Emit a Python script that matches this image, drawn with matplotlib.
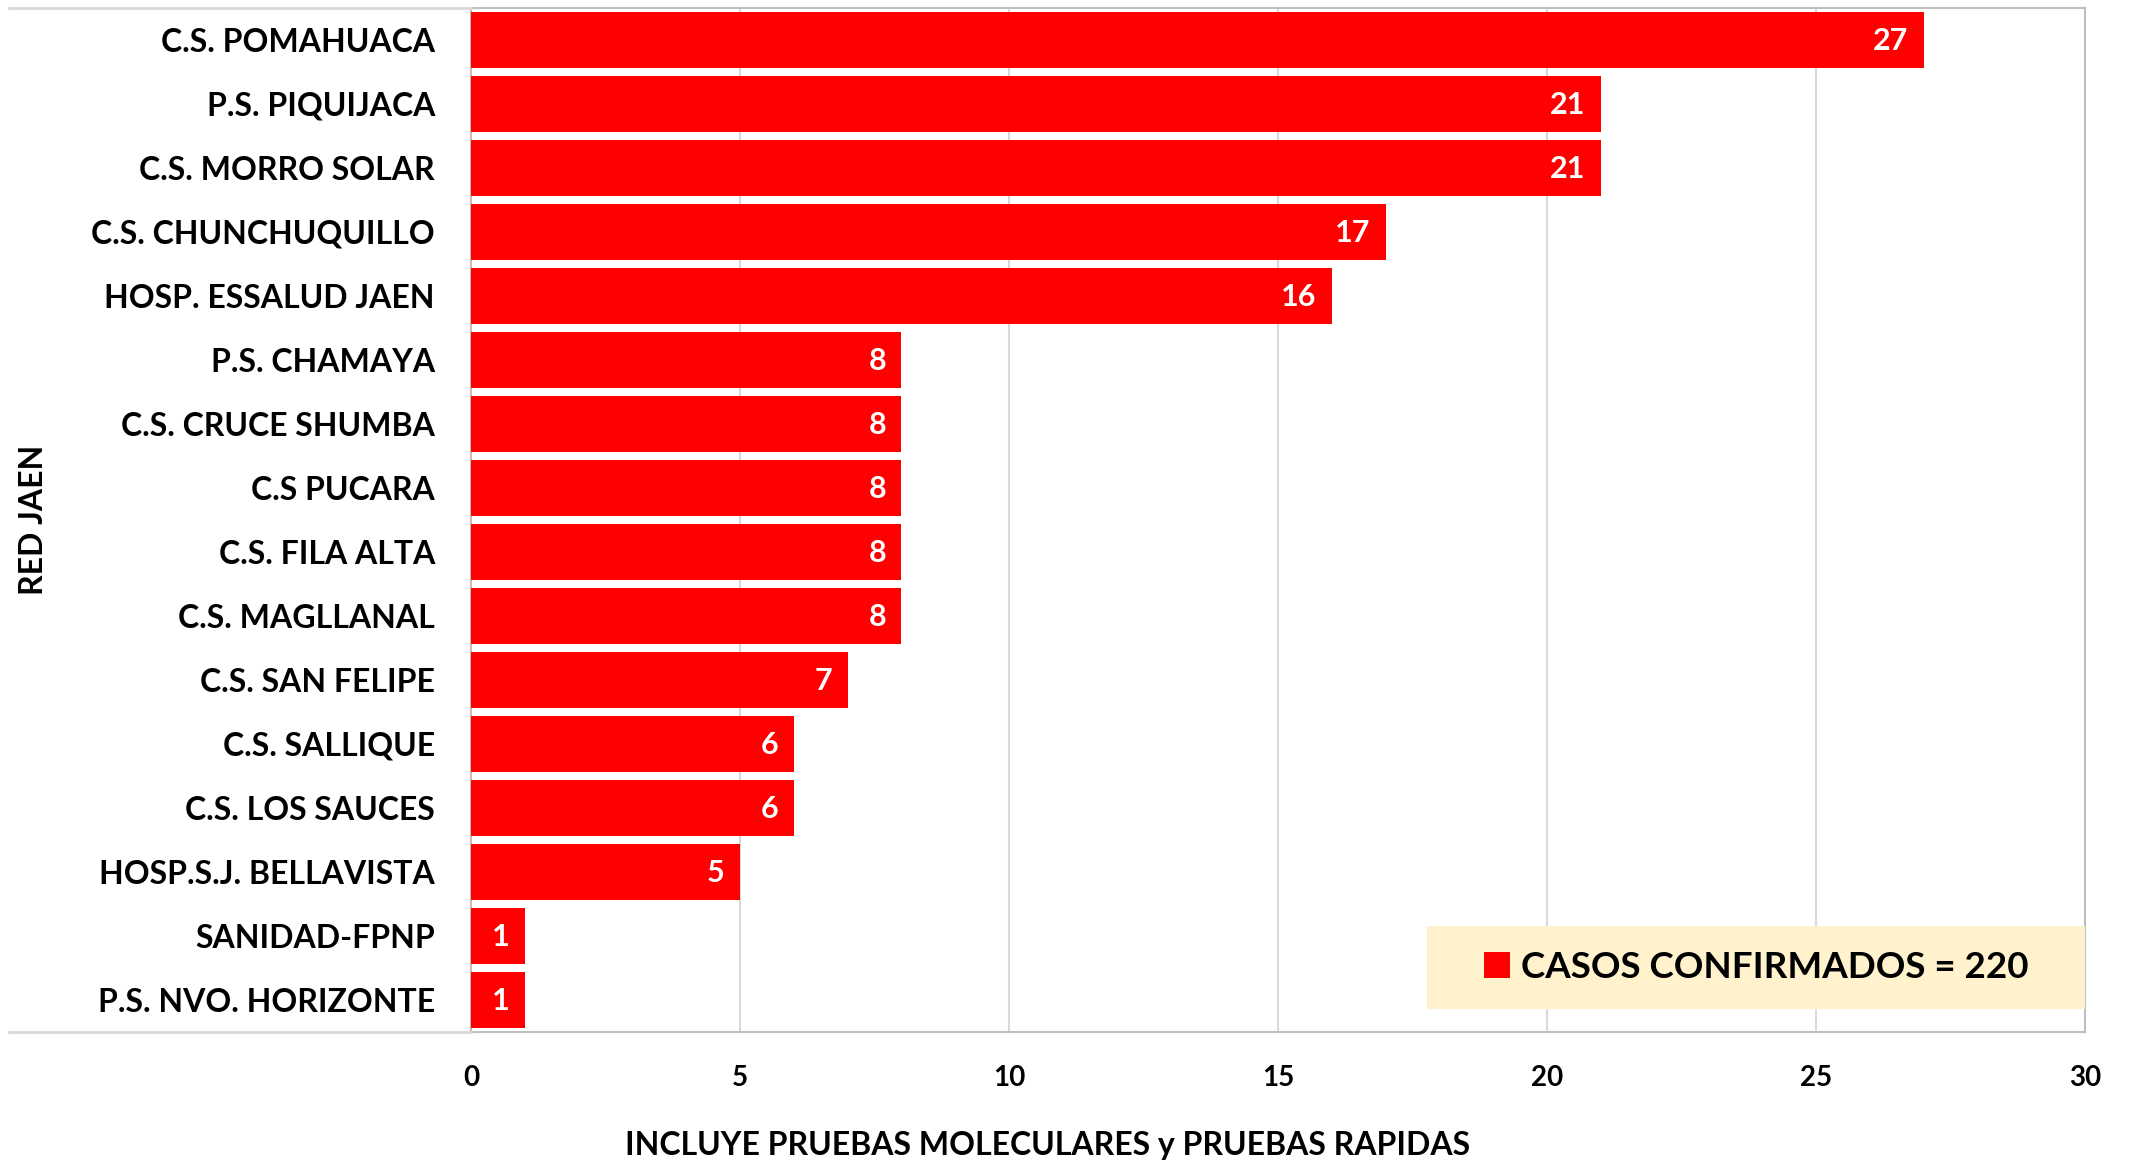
import matplotlib
matplotlib.use("Agg")
import matplotlib.pyplot as plt
from matplotlib.lines import Line2D
from matplotlib.patches import Patch, Rectangle

# establishments, listed top to bottom as in the chart
establecimientos = [
    "C.S. POMAHUACA", "P.S. PIQUIJACA", "C.S. MORRO SOLAR", "C.S. CHUNCHUQUILLO",
    "HOSP. ESSALUD JAEN", "P.S. CHAMAYA", "C.S. CRUCE SHUMBA", "C.S PUCARA",
    "C.S. FILA ALTA", "C.S. MAGLLANAL", "C.S. SAN FELIPE", "C.S. SALLIQUE",
    "C.S. LOS SAUCES", "HOSP.S.J. BELLAVISTA", "SANIDAD-FPNP", "P.S. NVO. HORIZONTE",
]
casos = [27, 21, 21, 17, 16, 8, 8, 8, 8, 8, 7, 6, 6, 5, 1, 1]
x_ticks = [0, 5, 10, 15, 20, 25, 30]
total = 220

FONT = "Lato"
RED = "#FF0000"
GRID = "#D9D9D9"
BORDER = "#BFBFBF"

W, H = 2130, 1164
fig = plt.figure(figsize=(W / 100, H / 100), dpi=100)
ax = fig.add_axes([471 / W, 1 - 1032 / H, (2085 - 471) / W, (1032 - 8) / H])

n = len(establecimientos)
ypos = list(range(n))
ax.barh(ypos, casos, height=0.89, color=RED, zorder=3)
ax.set_ylim(n - 0.5, -0.5)
ax.set_xlim(0, 30)

for y, v in zip(ypos, casos):
    ax.annotate(str(v), xy=(v, y), xytext=(-11, -1), textcoords="offset points",
                ha="right", va="center", color="white", fontsize=22,
                fontweight="bold", family=FONT, zorder=4)

ax.set_yticks(ypos)
ax.set_yticklabels(establecimientos, fontsize=23, fontweight="bold", family=FONT)
ax.set_xticks(x_ticks)
ax.set_xticklabels([str(t) for t in x_ticks], fontsize=20, fontweight="bold", family=FONT)
ax.tick_params(axis="both", length=0)
ax.tick_params(axis="y", pad=26)
ax.tick_params(axis="x", pad=24)

ax.grid(axis="x", color=GRID, linewidth=1.5, zorder=0)
for s in ax.spines.values():
    s.set_color(BORDER)
    s.set_linewidth(1.5)

# top and bottom border lines run out to the left edge of the chart
for yy in (8, 1032):
    fig.add_artist(Line2D([9 / W, 471 / W], [1 - yy / H, 1 - yy / H],
                          color="#D9D9D9", linewidth=2))

fig.text(34 / W, 1 - 520 / H, "RED JAEN", rotation=90, ha="center", va="center",
         fontsize=23, fontweight="bold", family=FONT)
fig.text(1048 / W, 1 - 1145 / H, "INCLUYE PRUEBAS MOLECULARES y PRUEBAS RAPIDAS",
         ha="center", va="center", fontsize=23, fontweight="bold", family=FONT)

# legend box
bx0, by0, bx1, by1 = 1427, 926, 2085, 1009
fig.add_artist(Rectangle((bx0 / W, 1 - by1 / H), (bx1 - bx0) / W, (by1 - by0) / H,
                         transform=fig.transFigure, facecolor="#FFF2CC",
                         edgecolor="none", zorder=5))
leg = fig.legend(handles=[Patch(facecolor=RED, label=f"CASOS CONFIRMADOS = {total}")],
                 loc="center", bbox_to_anchor=((bx0 + bx1) / 2 / W, 1 - (by0 + by1) / 2 / H),
                 frameon=False, handlelength=0.7, handleheight=0.7, handletextpad=0.3,
                 prop={"family": FONT, "weight": "bold", "size": 26.5})
leg.set_zorder(6)

fig.savefig("out.png", dpi=100)
